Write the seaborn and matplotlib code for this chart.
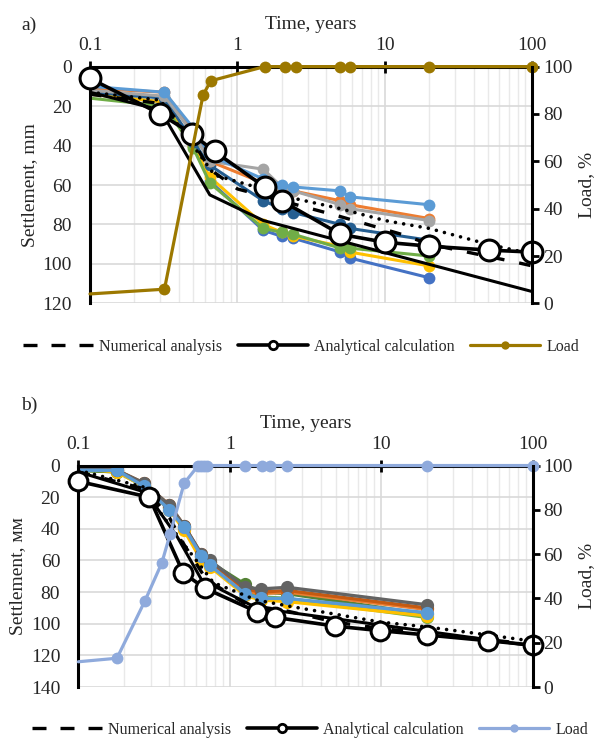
import numpy as np
import pandas as pd
import seaborn as sns
import matplotlib.pyplot as plt
from matplotlib.lines import Line2D
from matplotlib.ticker import LogLocator, NullFormatter

sns.set_theme(style="white")
plt.rcParams["font.family"] = ["Liberation Serif", "DejaVu Serif"]

# ---------------- a) data ----------------
top_time = [0.1, 0.32, 0.5, 0.65, 1.5, 2.0, 2.4, 5.0, 5.8, 20]
top_blue = [14, 18, 40, 58, 83, 86, 87, 94, 97, 107]
top_yellow = [14, 18, 40, 56, 80, 84, 86, 91, 94, 101]
top_green = [16, 20, 41, 59, 82, 84, 85, 92, 92, 96]
top_dark_blue = [13, 16, 38, 50, 68, 72, 74, 80, 82, 88]
top_orange = [11, 13, 32, 48, 59, 62, 63, 68, 70, 77]
top_gray = [12, 15, 34, 48, 52, 61, 63, 70, 72, 78]
top_light_blue = [10, 13, 31, 45, 57, 60, 61, 63, 66, 70]

top_solid_t = [0.1, 0.3, 0.65, 1.5, 100]
top_solid_s = [13, 22, 65, 78, 114]
top_dotted_t = [0.1, 0.3, 0.5, 0.7, 1.2, 2.5, 5, 10, 20, 50, 100]
top_dotted_s = [13, 17, 40, 55, 60, 67, 72, 78, 82, 90, 95]
top_num_t = [0.1, 0.32, 0.5, 0.65, 1.0, 2.0, 5.0, 13, 20, 76, 100]
top_num_s = [14, 19, 38, 52, 62, 68, 76, 85, 90, 99, 101]
top_anal_t = [0.1, 0.3, 0.49, 0.7, 1.53, 2.0, 5.0, 10, 20, 51, 100]
top_anal_s = [6, 24, 34, 43, 61, 68, 85, 89, 91, 93, 94]
top_load_t = [0.1, 0.32, 0.585, 0.66, 1.53, 2.09, 2.48, 5.0, 5.78, 20, 100]
top_load = [4, 6, 88, 94, 100, 100, 100, 100, 100, 100, 100]

# ---------------- b) data ----------------
bot_time = [0.1, 0.18, 0.27, 0.4, 0.5, 0.65, 0.74, 1.26, 1.6, 2.4, 20]
bot_green = [3, 4, 13, 27, 40, 58, 62, 80, 83, 84, 96]
bot_dark_green = [3, 4, 12, 26, 39, 57, 61, 75, 80, 81, 94]
bot_yellow = [2, 4, 13, 28, 41, 60, 64, 82, 85, 86, 95]
bot_orange = [2, 3, 12, 26, 39, 57, 61, 79, 81, 80, 91]
bot_brown = [2, 3, 11, 25, 38, 56, 61, 78, 80, 79, 90]
bot_dark_gray = [2, 3, 11, 25, 38, 56, 60, 77, 78, 77, 88]
bot_light_blue = [3, 3, 13, 28, 39, 57, 63, 81, 84, 84, 93]

bot_solid_t = [0.1, 0.28, 0.45, 0.65, 1.5, 100]
bot_solid_s = [4, 17, 45, 72, 90, 114]
bot_dotted_t = [0.1, 0.28, 0.35, 0.5, 0.78, 1.5, 2.5, 5, 10, 20, 50, 100]
bot_dotted_s = [3, 14, 30, 50, 74, 85, 89, 94, 99, 102, 107, 111]
bot_num_t = [0.1, 0.28, 0.4, 0.5, 0.7, 1.3, 2.4, 5, 10, 20, 50, 100]
bot_num_s = [4, 15, 33, 50, 72, 88, 92, 99, 103, 106, 110, 113]
bot_anal_t = [0.1, 0.294, 0.494, 0.687, 1.51, 2.0, 4.97, 9.9, 20, 50.5, 100]
bot_anal_s = [10, 20, 68, 77.6, 92.4, 96, 101.5, 104.4, 107.1, 110.7, 113.5]
bot_load_t = [0.1, 0.18, 0.276, 0.356, 0.404, 0.5, 0.62, 0.65, 0.68, 0.71,
              1.26, 1.63, 1.85, 2.4, 20, 100]
bot_load = [11.4, 13, 39, 56, 69, 92, 100, 100, 100, 100,
            100, 100, 100, 100, 100, 100]

GOLD = "#9C7800"
LOAD_BLUE = "#8FAADC"


def long_df(time, series):
    rows = []
    for name, vals in series.items():
        for t, v in zip(time, vals):
            rows.append({"t": t, "s": v, "series": name})
    return pd.DataFrame(rows)


def style_axes(ax, ax2, ymax):
    ax.set_xlim(0.1, 100)
    ax.set_ylim(ymax, 0)
    ax2.set_ylim(0, 100)
    ax.xaxis.tick_top()
    ax.xaxis.set_label_position("top")
    ax.set_xticks([0.1, 1, 10, 100])
    ax.set_xticklabels(["0.1", "1", "10", "100"])
    ax.xaxis.set_minor_locator(LogLocator(base=10, subs=np.arange(2, 10)))
    ax.xaxis.set_minor_formatter(NullFormatter())
    ax.tick_params(axis="x", which="major", direction="inout", length=8, width=2,
                   labelsize=14, pad=5, top=True, bottom=False, color="black")
    ax.tick_params(axis="x", which="minor", length=0, top=False, bottom=False)
    ax.set_yticks(range(0, ymax + 1, 20))
    ax.tick_params(axis="y", length=0, labelsize=14, pad=13)
    ax.grid(True, which="major", color="#D9D9D9", lw=1.2)
    ax.grid(True, which="minor", axis="x", color="#E9E9E9", lw=1.0)
    ax.set_axisbelow(True)
    for side in ["bottom", "right"]:
        ax.spines[side].set_visible(False)
    for side in ["left", "top"]:
        ax.spines[side].set_color("black")
        ax.spines[side].set_linewidth(2.2)
    for side in ["left", "top", "bottom"]:
        ax2.spines[side].set_visible(False)
    ax2.spines["right"].set_color("black")
    ax2.spines["right"].set_linewidth(2.2)
    ax2.set_yticks(range(0, 101, 20))
    ax2.tick_params(axis="y", direction="out", length=5, width=2, labelsize=14,
                    pad=3, right=True, color="black")
    ax2.grid(False)
    ax.set_xlabel("Time, years", fontsize=14, labelpad=6)
    ax2.set_ylabel("Load, %", fontsize=14, labelpad=4)


def black_lines(ax, solid, dotted, num, anal, ms):
    sns.lineplot(x=solid[0], y=solid[1], ax=ax, color="black", lw=2.2,
                 estimator=None, sort=False)
    sns.lineplot(x=dotted[0], y=dotted[1], ax=ax, color="black", lw=2.6,
                 linestyle=(0, (0.01, 2.3)), dash_capstyle="round",
                 estimator=None, sort=False)
    sns.lineplot(x=num[0], y=num[1], ax=ax, color="black", lw=2.4,
                 linestyle=(0, (3.5, 4.5)), estimator=None, sort=False)
    sns.lineplot(x=anal[0], y=anal[1], ax=ax, color="black", lw=2.6,
                 marker="o", ms=ms, mfc="white", mec="black", mew=2.2,
                 estimator=None, sort=False, clip_on=False, zorder=5)


def add_legend(load_color, y_px, x_frac):
    handles = [
        Line2D([], [], color="black", lw=2.4, linestyle=(0, (4.2, 4.2))),
        Line2D([], [], color="black", lw=2.6, marker="o", ms=6, mfc="white",
               mec="black", mew=2),
        Line2D([], [], color=load_color, lw=2.3, marker="o", ms=6, mew=0),
    ]
    labels = ["Numerical analysis", "Analytical calculation", "Load"]
    fig.legend(handles, labels, loc="center", bbox_to_anchor=(x_frac, 1 - y_px / 740),
               ncol=3, frameon=False, fontsize=11.5, handlelength=4.4,
               columnspacing=0.95, handletextpad=0.4)


fig = plt.figure(figsize=(6, 7.4), dpi=100)

# ---------------- panel a ----------------
ax = fig.add_axes([0.15, 0.590, 0.737, 0.320])
ax.set_xscale("log")
ax2 = ax.twinx()
ax2.set_xscale("log")

top_series = {
    "blue": top_blue, "yellow": top_yellow, "green": top_green,
    "dark_blue": top_dark_blue, "orange": top_orange, "gray": top_gray,
    "light_blue": top_light_blue,
}
top_pal = {"blue": "#4472C4", "yellow": "#FFC000", "green": "#70AD47",
           "dark_blue": "#255E91", "orange": "#ED7D31", "gray": "#A5A5A5",
           "light_blue": "#5B9BD5"}
sns.lineplot(data=long_df(top_time, top_series), x="t", y="s", hue="series",
             palette=top_pal, ax=ax, lw=2.2, marker="o", ms=8.5, mew=0,
             markevery=list(range(1, len(top_time))),
             estimator=None, sort=False, legend=False)
black_lines(ax, (top_solid_t, top_solid_s), (top_dotted_t, top_dotted_s),
            (top_num_t, top_num_s), (top_anal_t, top_anal_s), ms=15)
sns.lineplot(x=top_load_t, y=top_load, ax=ax2, color=GOLD, lw=2.3, marker="o",
             ms=8.5, mew=0, markevery=list(range(1, len(top_load_t))),
             estimator=None, sort=False, clip_on=False)
style_axes(ax, ax2, 120)
ax.set_ylabel("Settlement, mm", fontsize=14, labelpad=3)
fig.text(0.035, 1 - 25 / 740, "a)", fontsize=14, ha="left", va="center")
add_legend(GOLD, 347, 0.502)

# ---------------- panel b ----------------
bx = fig.add_axes([0.1305, 0.0716, 0.757, 0.2993])
bx.set_xscale("log")
bx2 = bx.twinx()
bx2.set_xscale("log")

bot_series = {
    "green": bot_green, "dark_green": bot_dark_green, "yellow": bot_yellow,
    "orange": bot_orange, "brown": bot_brown, "dark_gray": bot_dark_gray,
    "light_blue": bot_light_blue,
}
bot_pal = {"green": "#70AD47", "dark_green": "#548235", "yellow": "#FFC000",
           "orange": "#ED7D31", "brown": "#C55A11", "dark_gray": "#636363",
           "light_blue": "#5B9BD5"}
sns.lineplot(data=long_df(bot_time, bot_series), x="t", y="s", hue="series",
             palette=bot_pal, ax=bx, lw=2.4, marker="o", ms=9.5, mew=0,
             markevery=list(range(1, len(bot_time))),
             estimator=None, sort=False, legend=False)
black_lines(bx, (bot_solid_t, bot_solid_s), (bot_dotted_t, bot_dotted_s),
            (bot_num_t, bot_num_s), (bot_anal_t, bot_anal_s), ms=13.5)
sns.lineplot(x=bot_load_t, y=bot_load, ax=bx2, color=LOAD_BLUE, lw=2.3,
             marker="o", ms=8.5, mew=0, markevery=list(range(1, len(bot_load_t))),
             estimator=None, sort=False, clip_on=False)
style_axes(bx, bx2, 140)
bx.set_ylabel("Settlement, мм", fontsize=14, labelpad=3)
fig.text(0.035, 1 - 405 / 740, "b)", fontsize=14, ha="left", va="center")
add_legend(LOAD_BLUE, 730, 0.517)

fig.savefig("out.png", dpi=100)
